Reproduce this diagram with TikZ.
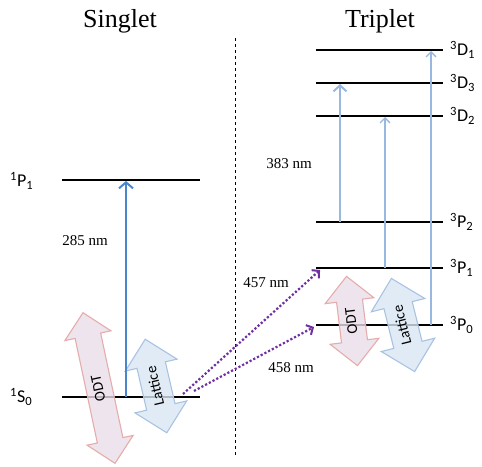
\documentclass[tikz,border=0pt]{standalone}
\usepackage{fontspec}
\setmainfont{Liberation Serif}
\newfontfamily\labfont{Carlito}
\usetikzlibrary{arrows.meta,shapes.arrows}
\definecolor{odtfill}{RGB}{233,221,232}
\definecolor{odtdraw}{RGB}{230,172,172}
\definecolor{latfill}{RGB}{218,230,243}
\definecolor{latdraw}{RGB}{168,195,226}
\definecolor{singblue}{RGB}{74,134,206}
\definecolor{tripblue}{RGB}{152,184,224}
\definecolor{violet}{RGB}{112,48,160}
\tikzset{
  level/.style={line width=2.6pt,black},
  lab/.style={font=\labfont\fontsize{18}{20}\selectfont,inner sep=0pt},
  nm/.style={font=\fontsize{15}{17}\selectfont},
  title/.style={font=\fontsize{26}{28}\selectfont,anchor=base,inner sep=0pt},
  fat/.style={double arrow,double arrow tip angle=90,line width=1.1pt,
    fill opacity=0.8,text opacity=1,inner xsep=0pt,inner ysep=8.5pt,
    text height=8pt,text depth=0pt,font=\labfont\fontsize{15}{17}\selectfont},
  pump/.style={violet,line width=2.2pt,dotted,-{Straight Barb[length=5pt,width=11pt,line width=2pt]}}
}
\begin{document}
\begin{tikzpicture}[x=1pt,y=-1pt]
  \useasboundingbox (0,0) rectangle (482,466);
  \node[title] (sing) at (120,27) {Singlet};
  \node[title] (trip) at (380,27) {Triplet};
  \draw[dashed,line width=0.7pt] (235,38) coordinate (d1) -- (235,455) coordinate (d2);
  % singlet levels
  \coordinate (P1l) at (62,180); \coordinate (P1r) at (200,180);
  \coordinate (S0l) at (62,397); \coordinate (S0r) at (200,397);
  \draw[level] (P1l) -- (P1r);
  \draw[level] (S0l) -- (S0r);
  \node[lab,anchor=west] (P1) at (10,181) {\textsuperscript{1}P\textsubscript{1}};
  \node[lab,anchor=west] (S0) at (10,397) {\textsuperscript{1}S\textsubscript{0}};
  % triplet levels
  \foreach \name/\y/\txt in {D1/50/D\textsubscript{1},D3/83/D\textsubscript{3},
      D2/116/D\textsubscript{2},tP2/222/P\textsubscript{2},
      tP1/268/P\textsubscript{1},tP0/325/P\textsubscript{0}}{
    \coordinate (\name l) at (316,\y);
    \coordinate (\name r) at (443,\y);
    \draw[level] (\name l) -- (\name r);
    \node[lab,anchor=west] (\name) at (450,\y) {\textsuperscript{3}\txt};
  }
  % trapping beams
  \node[fat,fill=odtfill,draw=odtdraw,rotate=102,minimum height=154pt,
    double arrow head extend=10.5pt] (odtS) at (99,388) {ODT};
  \node[fat,fill=latfill,draw=latdraw,rotate=103,minimum height=96pt,
    double arrow head extend=12pt,inner ysep=10pt] (latS) at (156,386) {Lattice};
  \node[fat,fill=odtfill,draw=odtdraw,rotate=97,minimum height=90pt,
    double arrow head extend=11.5pt] (odtT) at (352,321) {ODT};
  \node[fat,fill=latfill,draw=latdraw,rotate=104,minimum height=96pt,
    double arrow head extend=13pt,inner ysep=10pt] (latT) at (403,325) {Lattice};
  % transitions
  \coordinate (a285) at (126,397); \coordinate (b285) at (126,181);
  \draw[singblue,line width=2.4pt,-{Straight Barb[length=6pt,width=14pt,line width=2pt]}] (a285) -- (b285);
  \node[nm] (l285) at (85,241) {285 nm};
  \coordinate (a383) at (340,222); \coordinate (b383) at (340,84);
  \draw[tripblue,line width=2.6pt,-{Straight Barb[length=6pt,width=13pt,line width=2pt]}] (a383) -- (b383);
  \node[nm] (l383) at (289,164) {383 nm};
  \coordinate (aD2) at (385,268); \coordinate (bD2) at (385,117);
  \draw[tripblue,line width=1.6pt,-{Straight Barb[length=5pt,width=10pt,line width=1.4pt]}] (aD2) -- (bD2);
  \coordinate (aD1) at (431,325); \coordinate (bD1) at (431,51);
  \draw[tripblue,line width=1.6pt,-{Straight Barb[length=5pt,width=10pt,line width=1.4pt]}] (aD1) -- (bD1);
  \coordinate (a457) at (183,394); \coordinate (b457) at (320,270);
  \draw[pump] (a457) -- (b457);
  \node[nm] (l457) at (266,283) {457 nm};
  \coordinate (a458) at (194,391); \coordinate (b458) at (314,327);
  \draw[pump] (a458) -- (b458);
  \node[nm] (l458) at (291,368) {458 nm};
\end{tikzpicture}
\end{document}
